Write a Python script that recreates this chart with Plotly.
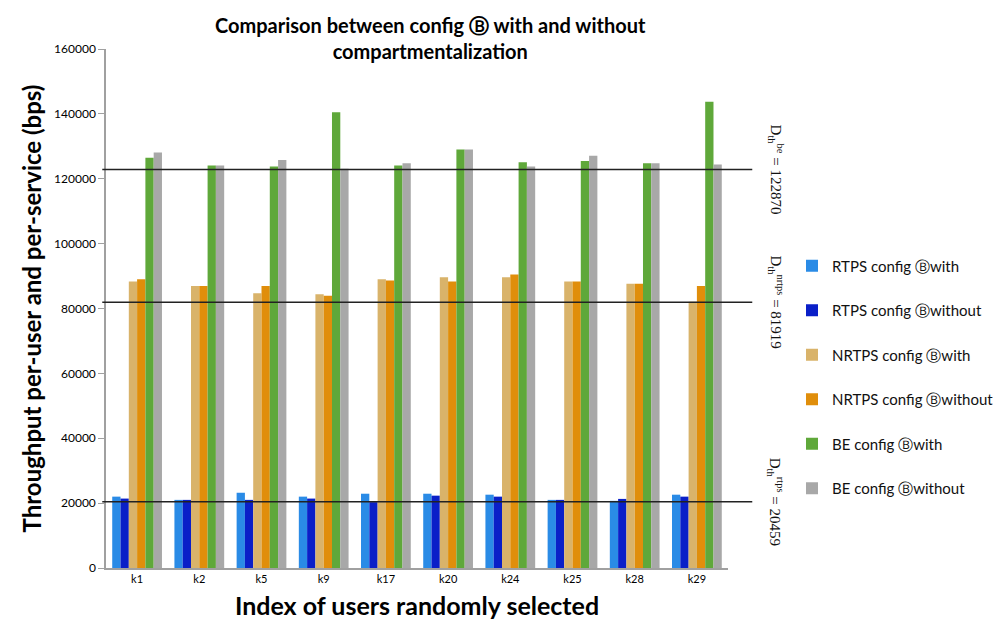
import plotly.graph_objects as go

users = ["k1", "k2", "k5", "k9", "k17", "k20", "k24", "k25", "k28", "k29"]
rtps_with = [22000, 21000, 23200, 22000, 22900, 22900, 22600, 21000, 20700, 22600]
rtps_without = [21400, 21000, 21000, 21400, 20300, 22300, 22000, 21000, 21300, 22000]
nrtps_with = [88300, 86900, 84700, 84400, 89000, 89600, 89600, 88300, 87600, 82100]
nrtps_without = [89000, 86900, 86900, 83900, 88600, 88300, 90500, 88300, 87600, 86900]
be_with = [126500, 124100, 123800, 140500, 124100, 129000, 125100, 125500, 124800, 143700]
be_without = [128100, 124100, 125800, 123100, 124800, 129000, 123800, 127100, 124800, 124400]

series_names = ["RTPS config Ⓑwith", "RTPS config Ⓑwithout", "NRTPS config Ⓑwith",
                "NRTPS config Ⓑwithout", "BE config Ⓑwith", "BE config Ⓑwithout"]
series_values = [rtps_with, rtps_without, nrtps_with, nrtps_without, be_with, be_without]
series_colors = ["#2A8BE6", "#0A1FC8", "#D9B36A", "#E08E0B", "#5FA83A", "#A8A8A8"]

thresholds = [122870, 81919, 20459]
threshold_labels = ["D<sub>th</sub><sup>be</sup> = 122870",
                    "D<sub>th</sub><sup>nrtps</sup> = 81919",
                    "D<sub>th</sub><sup>rtps</sup> = 20459"]

title_text = "<b>Comparison between config Ⓑ with and without<br>compartmentalization</b>"

FONT = "Lato"
fig = go.Figure()
for name, vals, col in zip(series_names, series_values, series_colors):
    fig.add_trace(go.Bar(x=users, y=vals, name=name, legendgroup=name,
                         marker=dict(color=col, line=dict(width=0))))

for val, lab in zip(thresholds, threshold_labels):
    fig.add_shape(type="line", xref="paper", yref="y", x0=-0.006, x1=1.039, y0=val, y1=val,
                  line=dict(color="#222222", width=1.5))
    fig.add_annotation(xref="paper", yref="y", x=1.077, y=val, text=lab, showarrow=False,
                       textangle=90, font=dict(family="Liberation Serif", size=15, color="#111111"),
                       xanchor="center", yanchor="middle")

fig.add_annotation(xref="paper", yref="paper", x=(430 - 106) / 622, y=(568 - 38) / 519,
                   text=title_text, showarrow=False, xanchor="center", yanchor="middle",
                   font=dict(family=FONT, size=20, color="black"))

fig.update_layout(
    width=993, height=629,
    margin=dict(l=106, r=265, t=49, b=61),
    paper_bgcolor="white", plot_bgcolor="white",
    barmode="group", bargap=0.2, bargroupgap=0,
    legend=dict(xref="container", x=792 / 993, xanchor="left", y=(568 - 377) / 519, yanchor="middle",
                tracegroupgap=22, font=dict(family=FONT, size=15, color="#111111"),
                bgcolor="rgba(0,0,0,0)", itemwidth=30),
    font=dict(family=FONT, color="black"),
)
fig.update_xaxes(showline=True, linecolor="#A0A0A0", linewidth=1.5, ticks="",
                 tickfont=dict(family=FONT, size=11),
                 title=dict(text="<b>Index of users randomly selected</b>", font=dict(family=FONT, size=25), standoff=14))
fig.update_yaxes(range=[0, 160000], dtick=20000, showgrid=False, zeroline=False,
                 showline=True, linecolor="#A0A0A0", linewidth=1.5, ticks="outside", ticklen=6,
                 tickcolor="#A0A0A0", tickfont=dict(family=FONT, size=12), tickformat="d",
                 title=dict(text="<b>Throughput per-user and per-service (bps)</b>", font=dict(family=FONT, size=24), standoff=6))

fig.write_html("out.html")
